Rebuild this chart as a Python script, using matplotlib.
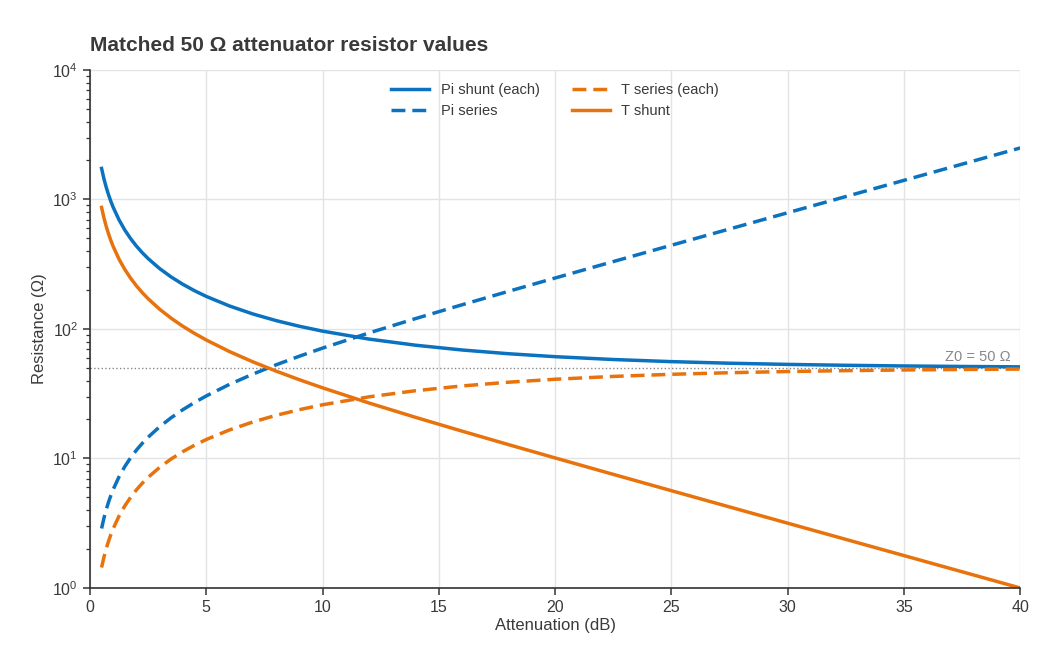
import matplotlib.pyplot as plt

plt.rcParams['font.family'] = ['Liberation Sans', 'DejaVu Sans']

# attenuation points (dB)
atten = [0.5, 0.6, 0.7, 0.8, 0.9, 1, 1.25, 1.5, 1.75, 2, 2.25, 2.5, 3, 3.5, 4, 4.5, 5,
         6, 7, 8, 9, 10, 12, 14, 16, 18, 20, 22.5, 25, 27.5, 30, 32.5, 35, 37.5, 40]

# resistor values (ohm), Z0 = 50
pi_shunt = [1737.7, 1448.2, 1241.4, 1086.5, 966.0, 869.6, 696.1, 580.5, 498.0, 436.2,
            388.2, 349.8, 292.4, 251.5, 221.0, 197.3, 178.5,
            150.5, 130.7, 116.1, 105.0, 96.25, 83.54, 74.93, 68.83, 64.40, 61.11,
            58.11, 55.96, 54.40, 53.27, 52.43, 51.81, 51.35, 51.01]
pi_series = [2.880, 3.457, 4.034, 4.612, 5.190, 5.769, 7.221, 8.678, 10.142, 11.615,
             13.098, 14.591, 17.615, 20.698, 23.848, 27.079, 30.399,
             37.352, 44.801, 52.845, 61.589, 71.151, 93.247, 120.31, 153.78, 195.43, 247.5,
             331.5, 443.2, 591.8, 789.8, 1053.6, 1405.4, 1874.4, 2499.75]
t_series = [1.439, 1.726, 2.014, 2.301, 2.588, 2.875, 3.592, 4.307, 5.020, 5.731,
            6.440, 7.146, 8.550, 9.940, 11.314, 12.670, 14.006,
            16.614, 19.124, 21.525, 23.811, 25.975, 29.924, 33.366, 36.319, 38.818, 40.909,
            43.024, 44.676, 45.954, 46.935, 47.684, 48.253, 48.684, 49.010]
t_shunt = [868.1, 723.2, 619.7, 542.1, 481.7, 433.3, 346.2, 288.1, 246.5, 215.2,
           190.9, 171.3, 141.9, 120.8, 104.8, 92.32, 82.24,
           66.93, 55.80, 47.31, 40.59, 35.14, 26.81, 20.78, 16.26, 12.79, 10.10,
           7.541, 5.641, 4.224, 3.165, 2.373, 1.779, 1.334, 1.000]
z0 = 50

blue = '#0b72bf'
orange = '#e8720c'
txt = '#3a3a3a'

fig = plt.figure(figsize=(10.62, 6.69), dpi=100)
ax = fig.add_axes([0.0847, 0.1211, 0.876, 0.7743])

ax.plot(atten, pi_shunt, color=blue, lw=2.5, label='Pi shunt (each)')
ax.plot(atten, pi_series, color=blue, lw=2.5, ls=(0, (4, 2)), label='Pi series')
ax.plot(atten, t_series, color=orange, lw=2.5, ls=(0, (4, 2)), label='T series (each)')
ax.plot(atten, t_shunt, color=orange, lw=2.5, label='T shunt')

ax.axhline(z0, color='#888888', lw=1, ls=':', zorder=1)
ax.text(39.6, z0 * 1.07, 'Z0 = 50 Ω', color='#888888', fontsize=10.5, ha='right', va='bottom')

ax.set_yscale('log')
ax.set_xlim(0, 40)
ax.set_ylim(1, 1e4)
ax.grid(True, which='major', color='#e3e3e3', lw=1)
ax.set_axisbelow(True)
for s in ['top', 'right']:
    ax.spines[s].set_visible(False)
for s in ['left', 'bottom']:
    ax.spines[s].set_color('#333333')
    ax.spines[s].set_linewidth(1.2)
ax.tick_params(axis='both', which='major', labelsize=11.5, colors='#333333', length=5, width=1.1, labelcolor=txt)
ax.tick_params(axis='y', which='minor', length=3, width=0.9, colors='#333333')

ax.set_xlabel('Attenuation (dB)', fontsize=12, color=txt, labelpad=2)
ax.set_ylabel('Resistance (Ω)', fontsize=12, color=txt, labelpad=4)
fig.text(0.0847, 0.932, 'Matched 50 Ω attenuator resistor values', fontsize=15,
         fontweight='bold', color=txt, ha='left', va='center')

leg = ax.legend(loc='upper center', ncol=2, frameon=False, fontsize=10.5,
                handlelength=2.6, columnspacing=2.2, labelspacing=0.5,
                bbox_to_anchor=(0.5, 1.0))
for t in leg.get_texts():
    t.set_color(txt)

fig.savefig('out.png', dpi=100)
